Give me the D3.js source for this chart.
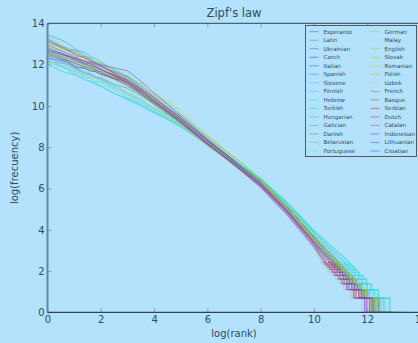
<!DOCTYPE html>
<html>
<head>
<meta charset="utf-8">
<script src="https://cdn.jsdelivr.net/npm/d3@7"></script>
<style>
  body { margin: 0; background: #b4e1fb; }
  svg { display: block; font-family: "DejaVu Sans", sans-serif; }
</style>
</head>
<body>
<svg id="chart" width="418" height="343"></svg>
<script>
// languages in legend order (column 1 then column 2)
const languages = ["Esperanto", "Latin", "Ukrainian", "Czech", "Italian", "Spanish", "Slovene",
  "Finnish", "Hebrew", "Turkish", "Hungarian", "Galician", "Danish", "Belarusian", "Portuguese",
  "German", "Malay", "English", "Slovak", "Romanian", "Polish", "Uzbek", "French", "Basque",
  "Serbian", "Dutch", "Catalan", "Indonesian", "Lithuanian", "Croatian"];

// log(rank) positions where the upper part of each curve is read
const logRankGrid = [0, 0.69, 1.1, 1.39, 1.61, 1.79, 2, 2.5, 3, 3.5, 4, 4.5, 5, 6, 7, 8, 9, 10];

// log(frequency) at logRankGrid, one row per language
const logFreqBody = [
  [12.40, 12.20, 11.88, 11.84, 11.70, 11.66, 11.54, 11.33, 11.05, 10.58, 10.15, 9.69, 9.22, 8.18, 7.22, 6.20, 4.92, 3.45],
  [12.15, 12.05, 11.78, 11.55, 11.53, 11.40, 11.36, 11.05, 10.85, 10.50, 10.10, 9.72, 9.32, 8.28, 7.32, 6.30, 5.03, 3.55],
  [12.50, 12.23, 12.03, 11.91, 11.83, 11.74, 11.64, 11.45, 11.15, 10.70, 10.28, 9.83, 9.37, 8.33, 7.37, 6.35, 5.10, 3.65],
  [12.60, 12.33, 12.13, 12.01, 11.93, 11.88, 11.74, 11.50, 11.20, 10.83, 10.35, 9.90, 9.42, 8.37, 7.38, 6.35, 5.13, 3.70],
  [13.25, 12.75, 12.66, 12.42, 12.30, 12.10, 12.02, 11.58, 11.25, 10.78, 10.25, 9.75, 9.22, 8.18, 7.22, 6.20, 4.93, 3.45],
  [13.45, 13.10, 12.70, 12.58, 12.38, 12.30, 12.12, 11.75, 11.35, 10.86, 10.33, 9.81, 9.27, 8.22, 7.23, 6.20, 4.98, 3.55],
  [12.35, 12.01, 11.72, 11.62, 11.50, 11.40, 11.28, 11.02, 10.65, 10.33, 9.90, 9.60, 9.22, 8.25, 7.35, 6.40, 5.23, 3.85],
  [12.10, 11.85, 11.42, 11.35, 11.15, 11.12, 10.92, 10.60, 10.30, 9.98, 9.65, 9.35, 9.02, 8.15, 7.35, 6.50, 5.35, 4.00],
  [12.25, 11.80, 11.62, 11.42, 11.36, 11.18, 11.12, 10.80, 10.40, 10.08, 9.70, 9.35, 8.97, 8.10, 7.30, 6.45, 5.28, 3.90],
  [12.00, 11.60, 11.52, 11.25, 11.22, 11.05, 10.98, 10.62, 10.35, 10.06, 9.73, 9.41, 9.07, 8.17, 7.33, 6.45, 5.30, 3.95],
  [12.50, 12.11, 11.83, 11.67, 11.57, 11.41, 11.28, 10.92, 10.55, 10.18, 9.85, 9.50, 9.12, 8.18, 7.32, 6.40, 5.23, 3.85],
  [12.80, 12.45, 12.26, 12.05, 11.93, 11.82, 11.70, 11.45, 11.12, 10.61, 10.13, 9.66, 9.17, 8.13, 7.17, 6.15, 4.85, 3.35],
  [12.85, 12.47, 12.20, 12.04, 11.91, 11.74, 11.66, 11.31, 10.95, 10.58, 10.05, 9.60, 9.12, 8.13, 7.22, 6.25, 5.03, 3.60],
  [12.45, 12.16, 11.95, 11.82, 11.73, 11.64, 11.53, 11.27, 10.96, 10.70, 10.28, 9.91, 9.52, 8.47, 7.48, 6.45, 5.15, 3.65],
  [13.15, 12.78, 12.52, 12.36, 12.18, 12.12, 11.99, 11.65, 11.30, 10.84, 10.33, 9.83, 9.32, 8.25, 7.25, 6.20, 4.93, 3.45],
  [13.00, 12.78, 12.42, 12.38, 12.20, 12.16, 12.00, 11.74, 11.45, 11.08, 10.55, 10.15, 9.62, 8.55, 7.55, 6.50, 5.23, 3.75],
  [12.10, 11.95, 11.60, 11.52, 11.35, 11.32, 11.15, 10.86, 10.65, 10.30, 9.90, 9.52, 9.12, 8.07, 7.08, 6.05, 4.73, 3.20],
  [13.35, 12.85, 12.68, 12.40, 12.32, 12.12, 12.05, 11.61, 11.20, 10.73, 10.20, 9.70, 9.17, 8.13, 7.17, 6.15, 4.93, 3.50],
  [12.60, 12.31, 12.10, 11.97, 11.88, 11.79, 11.68, 11.38, 11.15, 10.74, 10.32, 9.83, 9.37, 8.32, 7.33, 6.30, 5.03, 3.55],
  [12.90, 12.60, 12.38, 12.25, 12.16, 12.06, 11.95, 11.68, 11.40, 11.01, 10.58, 10.25, 9.78, 8.58, 7.52, 6.40, 5.05, 3.50],
  [13.05, 12.73, 12.45, 12.36, 12.26, 12.15, 12.04, 11.80, 11.45, 11.01, 10.48, 10.06, 9.57, 8.50, 7.50, 6.45, 5.15, 3.65],
  [12.20, 11.88, 11.65, 11.51, 11.41, 11.34, 11.19, 10.90, 10.60, 10.28, 9.83, 9.43, 9.02, 8.03, 7.12, 6.15, 4.83, 3.30],
  [13.20, 12.70, 12.55, 12.30, 12.22, 12.03, 11.95, 11.54, 11.15, 10.71, 10.23, 9.76, 9.27, 8.25, 7.30, 6.30, 5.05, 3.60],
  [12.55, 12.25, 12.03, 11.90, 11.81, 11.76, 11.60, 11.33, 11.05, 10.60, 10.18, 9.73, 9.27, 8.18, 7.17, 6.10, 4.78, 3.25],
  [12.70, 12.41, 12.20, 12.07, 12.02, 11.89, 11.78, 11.48, 11.25, 10.83, 10.40, 9.90, 9.42, 8.32, 7.28, 6.20, 4.88, 3.35],
  [12.95, 12.58, 12.32, 12.16, 12.03, 11.92, 11.79, 11.45, 11.10, 10.65, 10.15, 9.67, 9.17, 8.13, 7.17, 6.15, 4.85, 3.35],
  [13.10, 12.80, 12.42, 12.35, 12.15, 12.10, 11.92, 11.60, 11.25, 10.78, 10.25, 9.75, 9.22, 8.15, 7.15, 6.10, 4.78, 3.25],
  [12.30, 12.15, 11.86, 11.82, 11.70, 11.68, 11.53, 11.36, 11.15, 10.73, 10.25, 9.80, 9.32, 8.20, 7.15, 6.05, 4.70, 3.15],
  [12.65, 12.43, 12.27, 12.16, 12.11, 12.05, 11.98, 11.85, 11.70, 11.20, 10.62, 10.08, 9.52, 8.40, 7.35, 6.25, 4.93, 3.40],
  [12.75, 12.48, 12.28, 12.16, 12.08, 11.99, 11.89, 11.65, 11.40, 10.94, 10.43, 9.93, 9.42, 8.32, 7.28, 6.20, 4.93, 3.45]
];

// low-frequency tail: the staircase. For frequency k, the log(rank) of the last word with that count
const tailFreqs = [12, 11, 10, 9, 8, 7, 6, 5, 4, 3, 2];
const tailLogRankEnds = [
  [10.60, 10.67, 10.75, 10.83, 10.92, 11.02, 11.15, 11.29, 11.47, 11.73, 12.15],
  [10.73, 10.81, 10.89, 10.97, 11.06, 11.17, 11.29, 11.45, 11.63, 11.90, 12.28],
  [10.85, 10.92, 11.00, 11.08, 11.17, 11.27, 11.40, 11.54, 11.72, 11.98, 12.42],
  [10.90, 10.97, 11.05, 11.13, 11.22, 11.32, 11.45, 11.59, 11.77, 12.03, 12.45],
  [10.70, 10.77, 10.85, 10.93, 11.02, 11.12, 11.25, 11.39, 11.57, 11.83, 12.22],
  [10.80, 10.87, 10.95, 11.03, 11.12, 11.22, 11.35, 11.49, 11.67, 11.93, 12.38],
  [11.00, 11.07, 11.15, 11.23, 11.32, 11.42, 11.55, 11.69, 11.87, 12.13, 12.52],
  [11.25, 11.32, 11.40, 11.48, 11.57, 11.67, 11.80, 11.94, 12.12, 12.38, 12.82],
  [11.15, 11.22, 11.30, 11.38, 11.47, 11.57, 11.70, 11.84, 12.02, 12.28, 12.68],
  [11.30, 11.37, 11.45, 11.53, 11.62, 11.72, 11.85, 11.99, 12.17, 12.43, 12.86],
  [11.10, 11.17, 11.25, 11.33, 11.42, 11.52, 11.65, 11.79, 11.97, 12.23, 12.62],
  [10.45, 10.52, 10.60, 10.68, 10.77, 10.87, 11.00, 11.14, 11.32, 11.58, 12.00],
  [10.76, 10.83, 10.91, 10.99, 11.08, 11.18, 11.31, 11.45, 11.62, 11.87, 12.32],
  [10.84, 10.91, 10.99, 11.07, 11.16, 11.26, 11.39, 11.53, 11.71, 11.97, 12.36],
  [10.65, 10.72, 10.80, 10.88, 10.97, 11.07, 11.20, 11.34, 11.52, 11.78, 12.20],
  [10.95, 11.02, 11.10, 11.18, 11.27, 11.37, 11.50, 11.64, 11.82, 12.08, 12.55],
  [10.30, 10.37, 10.45, 10.53, 10.62, 10.72, 10.85, 10.99, 11.17, 11.43, 11.85],
  [10.80, 10.87, 10.95, 11.03, 11.12, 11.22, 11.35, 11.49, 11.67, 11.93, 12.33],
  [10.70, 10.77, 10.85, 10.93, 11.02, 11.12, 11.25, 11.39, 11.57, 11.83, 12.27],
  [10.60, 10.67, 10.75, 10.83, 10.92, 11.02, 11.15, 11.29, 11.47, 11.73, 12.12],
  [10.85, 10.92, 11.00, 11.08, 11.17, 11.27, 11.40, 11.54, 11.72, 11.98, 12.40],
  [10.25, 10.32, 10.40, 10.48, 10.57, 10.67, 10.80, 10.94, 11.12, 11.38, 11.80],
  [10.75, 10.82, 10.90, 10.98, 11.07, 11.17, 11.30, 11.44, 11.62, 11.88, 12.26],
  [10.40, 10.47, 10.55, 10.63, 10.72, 10.82, 10.95, 11.09, 11.27, 11.53, 11.95],
  [10.55, 10.62, 10.70, 10.78, 10.87, 10.97, 11.10, 11.24, 11.42, 11.68, 12.10],
  [10.55, 10.62, 10.70, 10.78, 10.87, 10.97, 11.10, 11.24, 11.42, 11.68, 12.08],
  [10.45, 10.52, 10.60, 10.68, 10.77, 10.87, 11.00, 11.14, 11.32, 11.58, 11.98],
  [10.35, 10.42, 10.50, 10.58, 10.67, 10.77, 10.90, 11.04, 11.22, 11.48, 11.90],
  [10.65, 10.72, 10.80, 10.88, 10.97, 11.07, 11.20, 11.34, 11.52, 11.78, 12.18],
  [10.66, 10.73, 10.81, 10.89, 10.98, 11.08, 11.21, 11.35, 11.53, 11.79, 12.22]
];
// log of the vocabulary size (words seen once run along frequency 1)
const maxLogRank = [12.85, 12.95, 13.1, 13.15, 12.9, 13.05, 13.2, 13.5, 13.4, 13.55, 13.3, 12.7, 13.0, 13.05, 12.9,
  13.25, 12.55, 13.0, 12.95, 12.8, 13.1, 12.5, 12.95, 12.65, 12.8, 12.75, 12.7, 12.6, 12.9, 12.9];

const xTicks = [0, 2, 4, 6, 8, 10, 12, 14];
const yTicks = [0, 2, 4, 6, 8, 10, 12, 14];

const colors = ["#6a5acd", "#5f7f9f", "#2f7f8f", "#3050d0", "#2070e0", "#10a0ff", "#40c0ff", "#20d8f0",
  "#00e8e8", "#00e0c0", "#20d8a0", "#30c870", "#20b040", "#60d060", "#80e080", "#70d890", "#a0e8a0",
  "#a0d040", "#b0d030", "#d0d040", "#b0c820", "#c8b890", "#a08030", "#c05030", "#e02020", "#d02070",
  "#b040e0", "#9020f0", "#7040e0", "#5050f0"];

const svg = d3.select("#chart");
const W = 418, H = 343;
const plot = { left: 47.5, right: 420.5, top: 23.3, bottom: 312.4 };
const textColor = "#2e4c64";

svg.append("rect").attr("width", W).attr("height", H).attr("fill", "#b4e1fb");

const x = d3.scaleLinear().domain([0, 14]).range([plot.left, plot.right]);
const y = d3.scaleLinear().domain([0, 14]).range([plot.bottom, plot.top]);

svg.append("clipPath").attr("id", "clip")
  .append("rect")
  .attr("x", plot.left).attr("y", plot.top)
  .attr("width", plot.right - plot.left).attr("height", plot.bottom - plot.top);

// build each curve: upper part on the grid, then the staircase down to frequency 1
const series = languages.map((name, i) => {
  const pts = logRankGrid.map((lr, j) => [lr, logFreqBody[i][j]]);
  const ends = tailLogRankEnds[i];
  tailFreqs.forEach((k, j) => {
    const lf = Math.log(k);
    if (j > 0) pts.push([ends[j - 1], lf]);
    pts.push([ends[j], lf]);
  });
  pts.push([ends[ends.length - 1], 0]);
  pts.push([maxLogRank[i], 0]);
  return { name, color: colors[i], pts };
});

const line = d3.line().x(d => x(d[0])).y(d => y(d[1]));

svg.append("g").attr("clip-path", "url(#clip)")
  .selectAll("path")
  .data(series)
  .enter().append("path")
  .attr("d", d => line(d.pts))
  .attr("fill", "none")
  .attr("stroke", d => d.color)
  .attr("stroke-opacity", 0.6)
  .attr("stroke-width", 0.9);

// axes with inward ticks
const xAxis = svg.append("g")
  .attr("transform", "translate(0," + plot.bottom + ")")
  .call(d3.axisBottom(x).tickValues(xTicks).tickSizeInner(-4).tickSizeOuter(0).tickPadding(4));
const xTop = svg.append("g")
  .attr("transform", "translate(0," + plot.top + ")")
  .call(d3.axisTop(x).tickValues(xTicks).tickSizeInner(-4).tickSizeOuter(0).tickFormat(""));
const yAxis = svg.append("g")
  .attr("transform", "translate(" + plot.left + ",0)")
  .call(d3.axisLeft(y).tickValues(yTicks).tickSizeInner(-4).tickSizeOuter(0).tickPadding(3));

[xAxis, xTop, yAxis].forEach(g => {
  g.select(".domain").remove();
  g.selectAll(".tick line").attr("stroke", "#7f9db3");
  g.selectAll(".tick text").attr("fill", textColor).attr("font-size", 10)
    .attr("font-family", "DejaVu Sans, sans-serif");
});

// spines
svg.append("line").attr("x1", plot.left).attr("x2", plot.right)
  .attr("y1", plot.top).attr("y2", plot.top).attr("stroke", "#2c4658").attr("stroke-width", 1);
svg.append("line").attr("x1", plot.left).attr("x2", plot.right)
  .attr("y1", plot.bottom).attr("y2", plot.bottom).attr("stroke", "#2c4658").attr("stroke-width", 1.3);
svg.append("line").attr("x1", plot.left).attr("x2", plot.left)
  .attr("y1", plot.top).attr("y2", plot.bottom).attr("stroke", "#5a8cae").attr("stroke-width", 2);

// title and axis labels
svg.append("text").attr("x", (plot.left + plot.right) / 2).attr("y", 16.5)
  .attr("text-anchor", "middle").attr("font-size", 11.5).attr("fill", textColor)
  .text("Zipf's law");
svg.append("text").attr("x", (plot.left + plot.right) / 2).attr("y", 336.5)
  .attr("text-anchor", "middle").attr("font-size", 10).attr("fill", textColor)
  .text("log(rank)");
svg.append("text")
  .attr("transform", "translate(18," + (plot.top + plot.bottom) / 2 + ") rotate(-90)")
  .attr("text-anchor", "middle").attr("font-size", 10).attr("fill", textColor)
  .text("log(frecuency)");

// legend, two columns of 15
const lg = svg.append("g");
lg.append("rect").attr("x", 305.5).attr("y", 25.5).attr("width", 111).attr("height", 131)
  .attr("fill", "#b4e1fb").attr("stroke", "#3a3a3a").attr("stroke-width", 0.8);
const rowH = 8.52;
series.forEach((s, i) => {
  const col = Math.floor(i / 15), row = i % 15;
  const lx = 309.5 + col * 61, ly = 31.7 + row * rowH;
  lg.append("line").attr("x1", lx).attr("x2", lx + 9).attr("y1", ly).attr("y2", ly)
    .attr("stroke", s.color).attr("stroke-opacity", 0.7).attr("stroke-width", 0.8);
  lg.append("text").attr("x", lx + 14).attr("y", ly + 2)
    .attr("font-size", 5.6).attr("fill", textColor).text(s.name);
});
</script>
</body>
</html>
